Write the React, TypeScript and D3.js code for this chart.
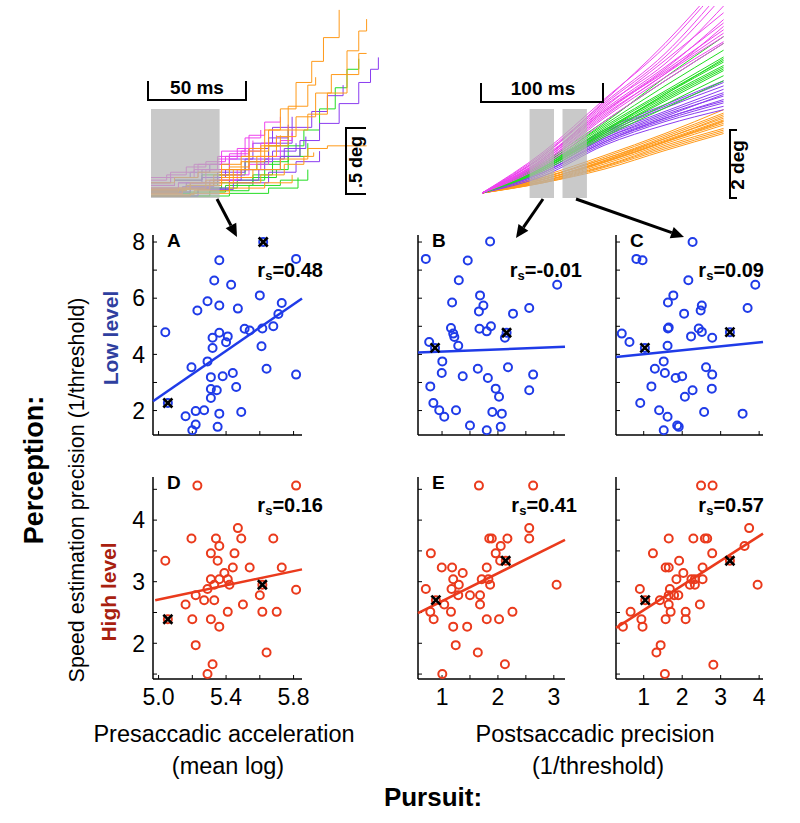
import React from 'react';
import * as d3 from 'd3';

const FONT = '"Liberation Sans", Arial, Helvetica, sans-serif';

// ---------- scatter data ----------
const ptsA: [number, number][] = [[5.04,4.79],[5.055,2.27],[5.16,1.80],[5.22,1.98],[5.27,2.01],[5.22,1.50],[5.20,1.30],[5.195,3.54],[5.23,5.56],[5.29,5.89],[5.29,3.75],[5.33,6.63],[5.36,7.35],[5.36,5.74],[5.32,4.59],[5.36,4.77],[5.32,4.23],[5.31,3.19],[5.31,2.77],[5.345,2.72],[5.31,2.45],[5.36,1.89],[5.35,1.42],[5.38,3.22],[5.41,4.64],[5.40,4.43],[5.43,6.48],[5.44,3.34],[5.46,2.84],[5.47,5.63],[5.49,1.95],[5.51,4.91],[5.54,4.85],[5.60,6.10],[5.615,4.92],[5.61,4.29],[5.62,8.0],[5.64,3.49],[5.68,5.00],[5.71,5.44],[5.73,5.83],[5.815,7.40],[5.815,3.28]];
const ptsB: [number, number][] = [[0.71,7.40],[1.86,8.02],[1.46,7.34],[1.30,6.64],[1.18,5.85],[1.68,6.10],[1.74,5.74],[1.66,5.53],[2.27,5.45],[2.56,5.65],[3.06,6.48],[1.16,4.94],[1.20,4.74],[1.22,4.62],[1.67,4.91],[1.80,4.82],[1.875,5.00],[2.125,4.59],[2.155,4.77],[0.77,4.44],[0.875,4.23],[1.29,4.31],[1.005,3.75],[0.995,3.34],[1.64,3.49],[1.37,3.22],[1.82,3.16],[2.18,3.54],[2.63,3.28],[0.79,2.86],[1.96,2.78],[2.02,2.49],[2.56,2.72],[0.845,2.27],[0.95,2.01],[1.04,1.78],[1.25,2.01],[1.90,1.95],[2.07,1.89],[1.50,1.47],[1.80,1.30],[2.05,1.42]];
const ptsC: [number, number][] = [[0.81,7.40],[0.97,7.35],[2.27,8.0],[2.16,6.64],[3.90,6.48],[1.77,6.10],[1.63,5.85],[2.51,5.74],[2.48,5.56],[2.05,5.45],[3.70,5.65],[1.65,4.96],[1.63,4.92],[2.43,4.92],[2.51,4.80],[2.23,4.64],[2.78,4.59],[0.43,4.74],[0.63,4.44],[1.03,4.23],[3.24,4.79],[1.62,4.31],[1.52,3.75],[1.29,3.49],[1.55,3.34],[1.83,3.16],[2.00,3.22],[2.62,3.54],[2.78,3.28],[1.20,2.86],[2.27,2.72],[2.07,2.49],[2.77,2.78],[0.91,2.27],[1.40,2.01],[1.62,1.78],[2.57,1.95],[3.57,1.89],[1.87,1.47],[1.91,1.42],[1.52,1.30]];
const ptsD: [number, number][] = [[5.23,4.56],[5.815,4.56],[5.04,3.34],[5.195,3.70],[5.34,3.70],[5.36,3.58],[5.31,3.46],[5.35,3.34],[5.47,3.87],[5.49,3.70],[5.68,3.70],[5.45,3.46],[5.44,3.23],[5.54,3.23],[5.73,3.23],[5.39,3.14],[5.31,3.04],[5.36,3.04],[5.41,3.04],[5.33,2.95],[5.42,2.95],[5.29,2.88],[5.22,2.78],[5.27,2.70],[5.33,2.70],[5.16,2.63],[5.50,2.63],[5.60,2.78],[5.615,2.95],[5.815,2.87],[5.41,2.51],[5.615,2.51],[5.70,2.51],[5.055,2.39],[5.20,2.39],[5.31,2.39],[5.36,2.27],[5.22,1.97],[5.64,1.85],[5.32,1.66],[5.29,1.50]];
const ptsE: [number, number][] = [[1.66,4.56],[2.63,4.56],[2.56,3.87],[2.56,3.70],[1.845,3.70],[1.89,3.70],[2.17,3.70],[2.05,3.58],[1.96,3.46],[2.04,3.34],[2.14,3.34],[0.80,3.46],[0.995,3.23],[1.18,3.23],[1.80,3.23],[1.37,3.14],[1.20,3.04],[1.71,3.04],[1.83,3.04],[1.30,2.95],[1.86,2.95],[3.05,2.95],[0.71,2.88],[1.17,2.88],[1.29,2.78],[1.50,2.78],[1.68,2.78],[0.89,2.70],[1.04,2.63],[1.68,2.63],[0.79,2.51],[1.16,2.51],[2.26,2.51],[0.85,2.39],[1.80,2.39],[2.02,2.39],[1.20,2.27],[1.45,2.27],[1.245,1.97],[1.64,1.85],[2.125,1.66],[1.005,1.50]];
const ptsF: [number, number][] = [[2.49,4.56],[2.79,4.56],[3.74,3.87],[3.62,3.58],[1.65,3.70],[2.29,3.70],[2.59,3.70],[2.65,3.70],[1.24,3.46],[2.78,3.46],[1.92,3.34],[3.24,3.34],[1.57,3.23],[1.65,3.23],[2.53,3.23],[2.03,3.14],[1.85,3.04],[2.24,3.04],[2.33,3.04],[2.53,3.04],[2.20,2.95],[2.33,2.95],[3.96,2.95],[1.68,2.88],[0.90,2.88],[1.65,2.78],[1.79,2.78],[1.90,2.78],[1.04,2.70],[1.42,2.70],[1.65,2.63],[2.46,2.63],[0.66,2.51],[1.70,2.51],[2.09,2.51],[0.94,2.39],[1.57,2.39],[2.09,2.39],[0.46,2.27],[0.97,2.27],[1.44,1.97],[1.33,1.85],[2.81,1.65],[1.55,1.50]];

const crossA: [number, number][] = [[5.055,2.27],[5.62,8.0]];
const crossB: [number, number][] = [[0.875,4.23],[2.155,4.77]];
const crossC: [number, number][] = [[1.03,4.23],[3.24,4.79]];
const crossD: [number, number][] = [[5.055,2.39],[5.615,2.95]];
const crossE: [number, number][] = [[0.89,2.70],[2.14,3.34]];
const crossF: [number, number][] = [[1.04,2.70],[3.24,3.34]];

const fitA: [number, number][] = [[4.967,2.33],[5.85,5.99]];
const fitB: [number, number][] = [[0.57,4.07],[3.2,4.27]];
const fitC: [number, number][] = [[0.28,3.91],[4.1,4.44]];
const fitD: [number, number][] = [[4.98,2.70],[5.85,3.20]];
const fitE: [number, number][] = [[0.57,2.49],[3.2,3.68]];
const fitF: [number, number][] = [[0.28,2.25],[4.1,3.78]];

const rsValues = ['0.48', '-0.01', '0.09', '0.16', '0.41', '0.57'];
const panelLetters = ['A', 'B', 'C', 'D', 'E', ''];

const xTicksA = [5.0, 5.2, 5.4, 5.6, 5.8];
const xLabelsA = [5.0, 5.4, 5.8];
const xTicksB = [1, 1.5, 2, 2.5, 3];
const xLabelsB = [1, 2, 3];
const xTicksC = [1, 2, 3, 4];
const xLabelsC = [1, 2, 3, 4];
const yTicksLow = [2, 3, 4, 5, 6, 7, 8];
const yLabelsLow = [2, 4, 6, 8];
const yTicksHigh = [1.5, 2, 2.5, 3, 3.5, 4, 4.5];
const yLabelsHigh = [2, 3, 4];

// ---------- trace insets ----------
// left inset: [ms, deg] step corners
const tracesLeftOrange: [number, number][][] = [
  [[0,0.03],[14,0.06],[28,0.12],[40,0.22],[50,0.36],[58,0.5],[66,0.66],[74,0.86],[82,1.02],[88,1.2],[96,1.41]],
  [[0,0.02],[16,0.05],[30,0.1],[42,0.2],[54,0.3],[64,0.45],[74,0.6],[84,0.78],[92,0.92],[100,1.1],[106,1.25],[110,1.34]],
  [[0,0.04],[18,0.08],[32,0.16],[46,0.26],[58,0.38],[70,0.5],[80,0.62],[90,0.78],[100,0.92],[106,1.08],[110,1.08]],
  [[0,0.05],[20,0.08],[36,0.14],[52,0.2],[66,0.28],[80,0.36],[90,0.38],[110,0.38]],
  [[0,0.01],[22,0.04],[40,0.1],[56,0.16],[68,0.24],[78,0.3],[83,0.33]],
  [[0,0.06],[20,0.1],[36,0.2],[50,0.34],[60,0.5],[70,0.68],[80,0.84],[84,0.9]],
  [[0,0.1],[12,0.14],[24,0.18],[36,0.24],[46,0.3],[56,0.38],[66,0.46]],
  [[0,0.0],[20,0.02],[40,0.06],[58,0.1],[72,0.16]],
];
const tracesLeftPurple: [number, number][][] = [
  [[0,0.03],[20,0.06],[40,0.12],[55,0.2],[66,0.3],[76,0.42],[86,0.55],[96,0.7],[106,0.86],[112,0.96],[116,1.05]],
  [[0,0.05],[18,0.1],[34,0.18],[48,0.28],[60,0.4],[72,0.52],[82,0.64],[90,0.76],[98,0.84]],
  [[0,0.04],[16,0.07],[32,0.12],[46,0.2],[58,0.28],[68,0.36],[79,0.45]],
  [[0,0.08],[12,0.12],[26,0.2],[40,0.28],[52,0.4],[62,0.52],[72,0.6]],
  [[0,0.0],[24,0.05],[42,0.1],[60,0.18],[74,0.26],[86,0.34]],
  [[0,0.1],[10,0.14],[20,0.18],[30,0.24],[40,0.3],[50,0.36],[60,0.44],[70,0.54]],
  [[0,0.06],[14,0.1],[26,0.14],[38,0.2],[50,0.26],[62,0.34],[74,0.4]],
];
const tracesLeftGreen: [number, number][][] = [
  [[0,0.0],[20,0.03],[38,0.08],[52,0.16],[62,0.26],[70,0.38],[78,0.5],[86,0.66],[94,0.82],[100,0.96],[106,1.04]],
  [[0,0.0],[40,0.02],[60,0.06],[75,0.14]],
  [[0,0.02],[24,0.06],[44,0.12],[58,0.2],[70,0.3],[80,0.4]],
  [[0,0.04],[18,0.08],[34,0.16],[48,0.26],[60,0.38],[70,0.5]],
  [[0,0.0],[30,0.04],[50,0.08],[66,0.12],[80,0.2]],
  [[0,0.08],[12,0.12],[26,0.16],[40,0.2],[54,0.24],[66,0.3],[76,0.36]],
  [[0,0.03],[20,0.06],[36,0.1],[52,0.14],[64,0.2]],
];
const tracesLeftMagenta: [number, number][][] = [
  [[0,0.05],[14,0.1],[28,0.2],[40,0.32],[50,0.46],[58,0.56],[66,0.6]],
  [[0,0.08],[12,0.14],[24,0.24],[36,0.34],[48,0.44],[56,0.5]],
  [[0,0.02],[16,0.06],[30,0.12],[44,0.2],[56,0.3],[66,0.42],[72,0.48]],
  [[0,0.06],[20,0.1],[36,0.16],[50,0.24],[60,0.3]],
  [[0,0.1],[10,0.14],[22,0.2],[34,0.28],[44,0.36],[52,0.42]],
  [[0,0.12],[8,0.16],[18,0.22],[28,0.26],[38,0.3],[48,0.36]],
  [[0,0.14],[10,0.18],[22,0.24],[34,0.3],[46,0.34],[56,0.4],[64,0.46]],
];

// right inset: positions (deg) at these times (ms)
const rightTimes = [0, 50, 100, 150, 198];
const tracesRightMagenta = [
  [0,1.2,2.75,4.3,6.2],[0,1.1,2.6,4.0,5.8],[0,1.0,2.5,3.9,5.3],[0,1.05,2.45,3.7,5.0],[0,0.95,2.35,3.6,4.8],
  [0,0.9,2.25,3.5,4.6],[0,0.85,2.2,3.4,4.45],[0,1.0,2.4,3.55,4.7],[0,0.8,2.1,3.3,4.4],[0,0.9,2.3,3.5,4.9],
  [0,1.1,2.7,4.4,6.3],[0,1.0,2.55,3.8,5.5],[0,1.15,2.65,4.1,6.0],[0,0.95,2.4,3.65,5.1],
];
const tracesRightGreen = [
  [0,0.9,2.1,3.3,4.4],[0,0.85,2.0,3.15,4.2],[0,0.8,1.95,3.0,4.0],[0,0.75,1.9,2.95,3.9],[0,0.8,1.85,2.85,3.75],
  [0,0.7,1.8,2.8,3.7],[0,0.75,1.75,2.7,3.6],[0,0.7,1.7,2.6,3.45],[0,0.65,1.65,2.5,3.3],[0,0.7,1.8,2.9,3.85],
  [0,0.85,2.05,3.4,4.6],[0,0.75,1.85,2.9,3.95],[0,0.7,1.75,2.75,3.65],
];
const tracesRightPurple = [
  [0,0.8,1.85,2.6,3.3],[0,0.75,1.75,2.5,3.15],[0,0.7,1.7,2.4,3.05],[0,0.7,1.65,2.35,2.95],[0,0.65,1.6,2.3,2.85],
  [0,0.6,1.55,2.2,2.75],[0,0.6,1.5,2.15,2.65],[0,0.55,1.45,2.1,2.55],[0,0.5,1.4,2.0,2.45],[0,0.65,1.6,2.25,2.9],
  [0,0.75,1.8,2.55,3.25],[0,0.6,1.5,2.2,2.7],
];
const tracesRightOrange = [
  [0,0.5,1.1,1.75,2.45],[0,0.45,1.05,1.7,2.35],[0,0.45,1.0,1.6,2.25],[0,0.4,0.95,1.55,2.15],[0,0.4,0.9,1.5,2.05],
  [0,0.35,0.85,1.45,2.0],[0,0.35,0.8,1.4,1.9],[0,0.3,0.75,1.3,1.8],[0,0.3,0.7,1.25,1.75],[0,0.4,0.95,1.6,2.2],
  [0,0.35,0.9,1.5,2.1],[0,0.45,1.0,1.65,2.3],[0,0.4,0.92,1.52,2.12],[0,0.32,0.78,1.35,1.85],
];

const BLUE = '#1f3be8';
const RED = '#ea3a1c';
const LOWC = '#2f3f9f';
const HIGHC = '#a8200f';
const C_OR = '#ff9a1a';
const C_PU = '#8a3cf0';
const C_GR = '#22dd22';
const C_MA = '#ee44ee';

type Pt = [number, number];

function Panel(props: {
  pts: Pt[]; crosses: Pt[]; fit: Pt[]; color: string;
  x: d3.ScaleLinear<number, number>; y: d3.ScaleLinear<number, number>;
  xTicks: number[]; xLabels: number[] | null; xFmt: (v: number) => string;
  yTicks: number[]; yLabels: number[] | null;
  letter: string; rs: string; rsRight: number; rsBase: number;
}) {
  const { pts, crosses, fit, color, x, y } = props;
  const [x0, x1] = x.range();
  const [yb, yt] = y.range();
  const line = d3.line<Pt>().x(d => x(d[0])).y(d => y(d[1]));
  return (
    <g>
      <line x1={x0} x2={x0} y1={yt} y2={yb} stroke="#000" strokeWidth={1.5} />
      <line x1={x0} x2={x1} y1={yb} y2={yb} stroke="#000" strokeWidth={1.5} />
      {props.yTicks.map(t => (
        <line key={'yt' + t} x1={x0} x2={x0 + 4} y1={y(t)} y2={y(t)} stroke="#000" strokeWidth={1} />
      ))}
      {props.xTicks.map(t => (
        <line key={'xt' + t} x1={x(t)} x2={x(t)} y1={yb} y2={yb - 4} stroke="#000" strokeWidth={1} />
      ))}
      {props.yLabels && props.yLabels.map(t => (
        <text key={'yl' + t} x={x0 - 8} y={y(t)} dy="0.36em" textAnchor="end" fontSize={23} fontFamily={FONT}>{t}</text>
      ))}
      {props.xLabels && props.xLabels.map(t => (
        <text key={'xl' + t} x={x(t)} y={705} textAnchor="middle" fontSize={23} fontFamily={FONT}>{props.xFmt(t)}</text>
      ))}
      <path d={line(fit) || ''} stroke={color} strokeWidth={2.5} fill="none" />
      {pts.map((p, i) => (
        <circle key={i} cx={x(p[0])} cy={y(p[1])} r={4} fill="none" stroke={color} strokeWidth={2} />
      ))}
      {crosses.map((p, i) => {
        const cx = x(p[0]), cy = y(p[1]), s = 4.5;
        return (
          <g key={'c' + i} stroke="#000" strokeWidth={2.6}>
            <line x1={cx - s} y1={cy - s} x2={cx + s} y2={cy + s} />
            <line x1={cx - s} y1={cy + s} x2={cx + s} y2={cy - s} />
          </g>
        );
      })}
      {props.letter && (
        <text x={x0 + 14} y={yt + 12} fontSize={19} fontWeight="bold" fontFamily={FONT}>{props.letter}</text>
      )}
      <text x={props.rsRight} y={props.rsBase} textAnchor="end" fontSize={20} fontWeight="bold" fontFamily={FONT}>
        r<tspan fontSize={13} dy={3}>s</tspan><tspan dy={-3}>={props.rs}</tspan>
      </text>
    </g>
  );
}

function Arrow({ x1, y1, x2, y2 }: { x1: number; y1: number; x2: number; y2: number }) {
  const a = Math.atan2(y2 - y1, x2 - x1);
  const L = 13, W = 6;
  const bx = x2 - L * Math.cos(a), by = y2 - L * Math.sin(a);
  const px = -Math.sin(a) * W, py = Math.cos(a) * W;
  return (
    <g>
      <line x1={x1} y1={y1} x2={bx} y2={by} stroke="#000" strokeWidth={3} />
      <polygon points={`${x2},${y2} ${bx + px},${by + py} ${bx - px},${by - py}`} fill="#000" />
    </g>
  );
}

export default function App() {
  const xA = d3.scaleLinear().domain([4.967, 5.85]).range([153, 302]);
  const xB = d3.scaleLinear().domain([0.57, 3.2]).range([418, 565]);
  const xC = d3.scaleLinear().domain([0.28, 4.1]).range([616, 763]);
  const yLow = d3.scaleLinear().domain([1.13, 8.25]).range([435, 235]);
  const yHigh = d3.scaleLinear().domain([1.42, 4.70]).range([679, 477]);

  const tL = d3.scaleLinear().domain([0, 50]).range([151, 249]);
  const pL = d3.scaleLinear().domain([0, 0.5]).range([196, 130]);
  const tR = d3.scaleLinear().domain([0, 100]).range([482, 604]);
  const pR = d3.scaleLinear().domain([0, 2]).range([193, 125]);

  const stepLine = d3.line<Pt>().x(d => tL(d[0])).y(d => pL(d[1])).curve(d3.curveStepAfter);
  const smoothLine = d3.line<number>().x((_, i) => tR(rightTimes[i])).y(d => pR(d)).curve(d3.curveMonotoneX);

  const f1 = (v: number) => d3.format('.1f')(v);
  const f0 = (v: number) => String(v);

  const leftGroups: [string, Pt[][]][] = [[C_GR, tracesLeftGreen], [C_PU, tracesLeftPurple], [C_MA, tracesLeftMagenta], [C_OR, tracesLeftOrange]];
  const rightGroups: [string, number[][]][] = [[C_OR, tracesRightOrange], [C_PU, tracesRightPurple], [C_GR, tracesRightGreen], [C_MA, tracesRightMagenta]];

  return (
    <svg width={800} height={823} style={{ position: 'absolute', left: 0, top: 0, background: '#fff' }} fontFamily={FONT}>
      <defs>
        <clipPath id="clipR"><rect x={470} y={6} width={256} height={200} /></clipPath>
      </defs>
      {/* left inset */}
      {leftGroups.map(([c, tr], gi) => tr.map((t, i) => (
        <path key={`l${gi}-${i}`} d={stepLine(t) || ''} stroke={c} strokeWidth={1} fill="none" />
      )))}
      <rect x={tL(0)} y={109} width={tL(35) - tL(0)} height={89} fill="#b4b4b4" opacity={0.72} />
      <g stroke="#000" strokeWidth={2} fill="none">
        <path d={`M${tL(0) - 3},81 V100 H${tL(50) - 3} V81`} />
        <path d={`M366,${pL(0.5) - 2} H346 V${pL(0) - 2} H366`} />
      </g>
      <text x={197} y={94} textAnchor="middle" fontSize={19} fontWeight="bold">50 ms</text>
      <text transform="translate(362,162) rotate(-90)" textAnchor="middle" fontSize={18} fontWeight="bold">.5 deg</text>

      {/* right inset */}
      <g clipPath="url(#clipR)">
        {rightGroups.map(([c, tr], gi) => tr.map((t, i) => (
          <path key={`r${gi}-${i}`} d={smoothLine(t) || ''} stroke={c} strokeWidth={1} fill="none" />
        )))}
      </g>
      <rect x={tR(39)} y={109} width={tR(59) - tR(39)} height={89} fill="#b4b4b4" opacity={0.72} />
      <rect x={tR(66)} y={109} width={tR(86) - tR(66)} height={89} fill="#b4b4b4" opacity={0.72} />
      <g stroke="#000" strokeWidth={2} fill="none">
        <path d={`M${tR(0) - 1},83 V102 H${tR(100) - 1} V83`} />
        <path d={`M737,${pR(2) + 5} H730 V${pR(0) + 5} H737`} />
      </g>
      <text x={543} y={95} textAnchor="middle" fontSize={19} fontWeight="bold">100 ms</text>
      <text transform="translate(744,165) rotate(-90)" textAnchor="middle" fontSize={19} fontWeight="bold">2 deg</text>

      <Arrow x1={217} y1={199} x2={237} y2={237} />
      <Arrow x1={543} y1={199} x2={516} y2={238} />
      <Arrow x1={576} y1={199} x2={684} y2={237} />

      {/* panels */}
      <Panel pts={ptsA} crosses={crossA} fit={fitA} color={BLUE} x={xA} y={yLow} xTicks={xTicksA} xLabels={null} xFmt={f1}
        yTicks={yTicksLow} yLabels={yLabelsLow} letter={panelLetters[0]} rs={rsValues[0]} rsRight={323} rsBase={277} />
      <Panel pts={ptsB} crosses={crossB} fit={fitB} color={BLUE} x={xB} y={yLow} xTicks={xTicksB} xLabels={null} xFmt={f0}
        yTicks={yTicksLow} yLabels={null} letter={panelLetters[1]} rs={rsValues[1]} rsRight={582} rsBase={277} />
      <Panel pts={ptsC} crosses={crossC} fit={fitC} color={BLUE} x={xC} y={yLow} xTicks={xTicksC} xLabels={null} xFmt={f0}
        yTicks={yTicksLow} yLabels={null} letter={panelLetters[2]} rs={rsValues[2]} rsRight={764} rsBase={277} />
      <Panel pts={ptsD} crosses={crossD} fit={fitD} color={RED} x={xA} y={yHigh} xTicks={xTicksA} xLabels={xLabelsA} xFmt={f1}
        yTicks={yTicksHigh} yLabels={yLabelsHigh} letter={panelLetters[3]} rs={rsValues[3]} rsRight={323} rsBase={512} />
      <Panel pts={ptsE} crosses={crossE} fit={fitE} color={RED} x={xB} y={yHigh} xTicks={xTicksB} xLabels={xLabelsB} xFmt={f0}
        yTicks={yTicksHigh} yLabels={null} letter={panelLetters[4]} rs={rsValues[4]} rsRight={577} rsBase={512} />
      <Panel pts={ptsF} crosses={crossF} fit={fitF} color={RED} x={xC} y={yHigh} xTicks={xTicksC} xLabels={xLabelsC} xFmt={f0}
        yTicks={yTicksHigh} yLabels={null} letter={panelLetters[5]} rs={rsValues[5]} rsRight={764} rsBase={512} />

      {/* side labels */}
      <text transform="translate(118,338) rotate(-90)" textAnchor="middle" fontSize={21} fontWeight="bold" fill={LOWC}>Low level</text>
      <text transform="translate(116,592) rotate(-90)" textAnchor="middle" fontSize={21} fontWeight="bold" fill={HIGHC}>High level</text>
      <text transform="translate(84,490) rotate(-90)" textAnchor="middle" fontSize={21.5}>Speed estimation precision (1/threshold)</text>
      <text transform="translate(43,470) rotate(-90)" textAnchor="middle" fontSize={27} fontWeight="bold">Perception:</text>

      <text x={224} y={742} textAnchor="middle" fontSize={23.5}>Presaccadic acceleration</text>
      <text x={228} y={774} textAnchor="middle" fontSize={23.5}>(mean log)</text>
      <text x={595} y={742} textAnchor="middle" fontSize={23.5}>Postsaccadic precision</text>
      <text x={598} y={774} textAnchor="middle" fontSize={23.5}>(1/threshold)</text>
      <text x={433} y={806} textAnchor="middle" fontSize={26} fontWeight="bold">Pursuit:</text>
    </svg>
  );
}
